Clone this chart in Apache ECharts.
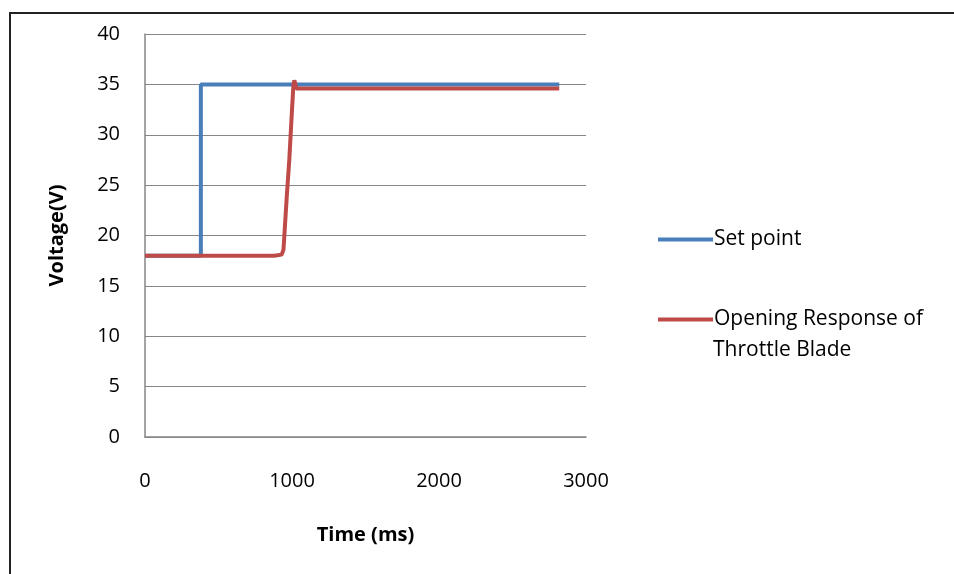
<!DOCTYPE html>
<html>
<head>
<meta charset="utf-8">
<script src="https://cdn.jsdelivr.net/npm/echarts@6/dist/echarts.min.js"></script>
<style>html,body{margin:0;padding:0;background:#fff}#c{width:954px;height:574px}</style>
</head>
<body>
<div id="c"></div>
<script>
const seriesNames = ['Set point', 'Opening Response of Throttle Blade'];
const setPointTime = [0, 380, 380, 2818];
const setPointVolt = [18, 18, 35, 35];
const responseTime = [0, 880, 930, 942, 948, 965, 982, 1000, 1010, 1016, 1030, 2818];
const responseVolt = [18, 18, 18.1, 18.6, 20, 24, 27.6, 32.5, 35, 35.4, 34.6, 34.6];
const xTicks = [0, 1000, 2000, 3000];
const yTicks = [0, 5, 10, 15, 20, 25, 30, 35, 40];

const font = 'Open Sans';
const chart = echarts.init(document.getElementById('c'));
const zip = (a, b) => a.map((v, i) => [v, b[i]]);
chart.setOption({
  animation: false,
  backgroundColor: '#fff',
  grid: { left: 145, right: 368, top: 34, bottom: 137 },
  xAxis: {
    type: 'value', min: xTicks[0], max: xTicks[xTicks.length - 1], interval: 1000,
    name: 'Time (ms)', nameLocation: 'middle', nameGap: 88,
    nameTextStyle: { fontFamily: font, fontWeight: 'bold', fontSize: 20, color: '#000' },
    axisLine: { lineStyle: { color: '#868686', width: 1.5 } },
    axisTick: { show: false },
    splitLine: { show: false },
    axisLabel: { fontFamily: font, fontSize: 20, color: '#000', margin: 34,
      formatter: v => String(v) }
  },
  yAxis: {
    type: 'value', min: yTicks[0], max: yTicks[yTicks.length - 1], interval: 5,
    name: 'Voltage(V)', nameLocation: 'middle', nameGap: 78, nameRotate: 90,
    nameTextStyle: { fontFamily: font, fontWeight: 'bold', fontSize: 20, color: '#000' },
    axisLine: { show: true, lineStyle: { color: '#868686', width: 1.5 } },
    axisTick: { show: false },
    splitLine: { lineStyle: { color: '#868686', width: 1.2 } },
    axisLabel: { fontFamily: font, fontSize: 20, color: '#000', margin: 25 }
  },
  legend: {
    orient: 'vertical', left: 653, top: 224, itemGap: 59,
    itemWidth: 55, itemHeight: 4, icon: 'rect',
    data: seriesNames,
    formatter: n => n === seriesNames[1] ? 'Opening Response of' : n,
    textStyle: { fontFamily: font, fontSize: 21, color: '#000', padding: [0, 0, 0, -4] }
  },
  graphic: [
    { type: 'rect', shape: { x: 10, y: 13, width: 1000, height: 700 },
      style: { fill: 'none', stroke: '#222', lineWidth: 2 }, silent: true },
    { type: 'text', left: 713, top: 340,
      style: { text: 'Throttle Blade', fontFamily: font, fontSize: 21, fill: '#000' } }
  ],
  series: [
    { name: seriesNames[0], type: 'line', data: zip(setPointTime, setPointVolt),
      symbol: 'none', color: '#4a7ebb', lineStyle: { width: 4, color: '#4a7ebb' }, z: 2 },
    { name: seriesNames[1], type: 'line', data: zip(responseTime, responseVolt),
      symbol: 'none', color: '#be4b48', lineStyle: { width: 4, color: '#be4b48' }, z: 3 }
  ]
});
</script>
</body>
</html>
